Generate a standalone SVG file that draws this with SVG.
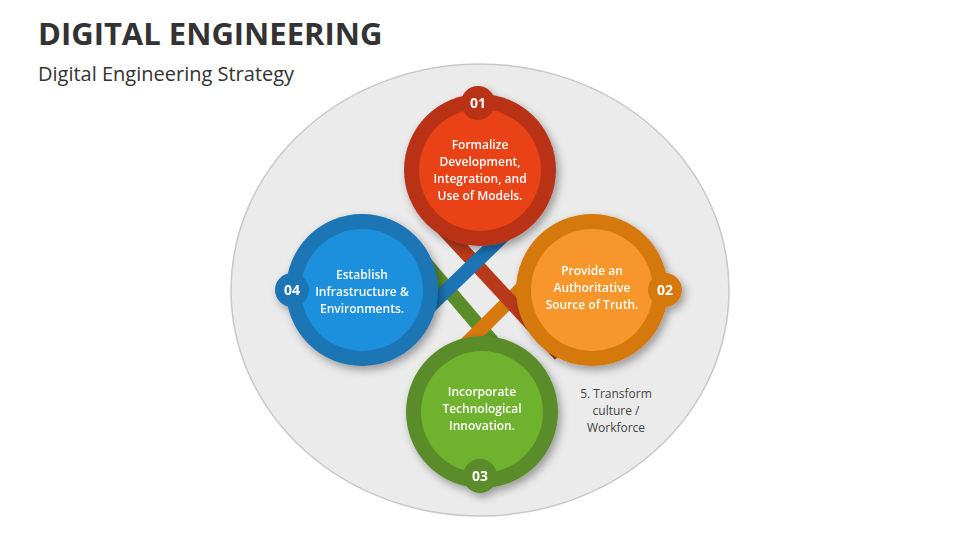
<svg xmlns="http://www.w3.org/2000/svg" width="960" height="540" viewBox="0 0 960 540">
<defs>
<filter id="sh" x="-20%" y="-20%" width="150%" height="150%"><feDropShadow dx="3" dy="4" stdDeviation="4" flood-opacity="0.35"/></filter>
</defs>
<style>
text{font-family:"Open Sans","Liberation Sans",sans-serif}
.t{font-size:12px;font-weight:600;fill:#fff;text-anchor:middle}
.b{font-size:14px;font-weight:bold;fill:#fff;text-anchor:middle}
.r{stroke-width:14;fill:none}
</style>
<rect width="960" height="540" fill="#fff"/>
<text x="38" y="45" font-size="31" font-weight="bold" fill="#333">DIGITAL ENGINEERING</text>
<text x="38" y="81" font-size="20" fill="#333">Digital Engineering Strategy</text>
<ellipse cx="480" cy="290" rx="249" ry="226" fill="#ebebeb" stroke="#c8c8c8" stroke-width="1.5"/>
<g id="connectors">
<line class="r" x1="410" y1="245" x2="525" y2="380" stroke="#5a8c2a"/>
<line class="r" x1="560" y1="250" x2="435" y2="375" stroke="#d6790e"/>
<line class="r" x1="435" y1="220" x2="560" y2="355" stroke="#b83a1c"/>
<line class="r" x1="400" y1="335" x2="525" y2="215" stroke="#1c74b4"/>
</g>
<g id="n1" filter="url(#sh)"><circle cx="480" cy="170" r="76" fill="#b93318"/><circle cx="480" cy="170" r="61" fill="#e84218"/><circle cx="478" cy="103" r="17" fill="#b93318"/><text class="b" x="478" y="108">01</text>
<text class="t" x="480" y="149">Formalize</text><text class="t" x="480" y="166">Development,</text><text class="t" x="480" y="183">Integration, and</text><text class="t" x="480" y="200">Use of Models.</text></g>
<g id="n2" filter="url(#sh)"><circle cx="592" cy="290" r="76" fill="#d6790e"/><circle cx="592" cy="290" r="61" fill="#f7962a"/><circle cx="665" cy="290" r="17" fill="#d6790e"/><text class="b" x="665" y="295">02</text>
<text class="t" x="592" y="275">Provide an</text><text class="t" x="592" y="292">Authoritative</text><text class="t" x="592" y="309">Source of Truth.</text></g>
<g id="n3" filter="url(#sh)"><circle cx="482" cy="412" r="76" fill="#5a8c2a"/><circle cx="482" cy="412" r="61" fill="#6eb22e"/><circle cx="480" cy="476" r="17" fill="#5a8c2a"/><text class="b" x="480" y="481">03</text>
<text class="t" x="482" y="396">Incorporate</text><text class="t" x="482" y="413">Technological</text><text class="t" x="482" y="430">Innovation.</text></g>
<g id="n4" filter="url(#sh)"><circle cx="362" cy="290" r="76" fill="#1c74b4"/><circle cx="362" cy="290" r="61" fill="#1e90dc"/><circle cx="292" cy="290" r="17" fill="#1c74b4"/><text class="b" x="292" y="295">04</text>
<text class="t" x="362" y="279">Establish</text><text class="t" x="362" y="296">Infrastructure &amp;</text><text class="t" x="362" y="313">Environments.</text></g>
<g id="n5"><text x="616" y="398" font-size="12" fill="#444" text-anchor="middle">5. Transform</text><text x="616" y="415" font-size="12" fill="#444" text-anchor="middle">culture /</text><text x="616" y="432" font-size="12" fill="#444" text-anchor="middle">Workforce</text></g>
</svg>
